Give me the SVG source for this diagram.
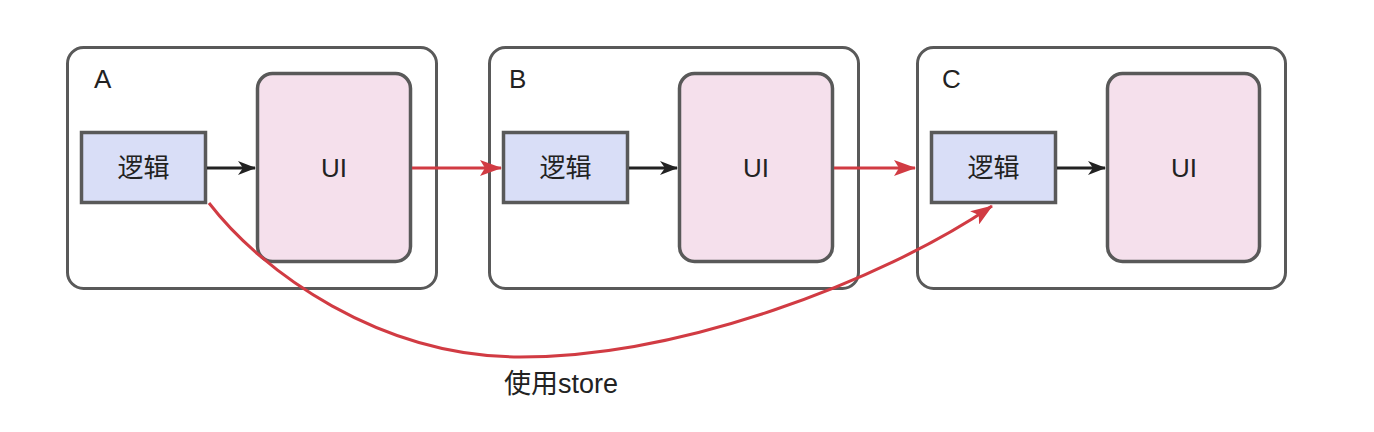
<svg xmlns="http://www.w3.org/2000/svg" width="1374" height="432" viewBox="0 0 1374 432">
<style>
.outer{fill:#ffffff;stroke:#595959;stroke-width:3}
.logic{fill:#d9def7;stroke:#595959;stroke-width:3.5}
.ui{fill:#f5e0ec;stroke:#595959;stroke-width:3.5}
.lbl{font-family:"Liberation Sans","Noto Sans CJK SC",sans-serif;font-size:26px;fill:#222}
.txt{font-family:"Liberation Sans","Noto Sans CJK SC",sans-serif;font-size:26px;fill:#222;text-anchor:middle;dominant-baseline:central}
.blk{stroke:#222;stroke-width:3;fill:none}
.red{stroke:#d13b43;stroke-width:3;fill:none}
</style>
<defs>
<marker id="ab" markerWidth="18" markerHeight="14" refX="17" refY="7" orient="auto" markerUnits="userSpaceOnUse"><path d="M0,0 L18,7 L0,14 L5,7 Z" fill="#222"/></marker>
<marker id="ar" markerWidth="22" markerHeight="16" refX="21" refY="8" orient="auto" markerUnits="userSpaceOnUse"><path d="M0,0 L22,8 L0,16 L5,8 Z" fill="#d13b43"/></marker>
</defs>
<rect width="1374" height="432" fill="#ffffff"/>
<g id="A">
<rect class="outer" x="67.5" y="47.5" width="369" height="241" rx="16"/>
<text class="lbl" x="94" y="88">A</text>
</g>
<g id="A-logic"><rect class="logic" x="81.5" y="132.5" width="124" height="70"/><text class="txt" x="143.5" y="168">逻辑</text></g>
<g id="A-ui"><rect class="ui" x="257.5" y="73.5" width="153" height="188" rx="15"/><text class="txt" x="334" y="168">UI</text></g>
<g id="B">
<rect class="outer" x="489.5" y="47.5" width="369" height="241" rx="16"/>
<text class="lbl" x="509" y="88">B</text>
</g>
<g id="B-logic"><rect class="logic" x="503.5" y="132.5" width="124" height="70"/><text class="txt" x="565.5" y="168">逻辑</text></g>
<g id="B-ui"><rect class="ui" x="679.5" y="73.5" width="153" height="188" rx="15"/><text class="txt" x="756" y="168">UI</text></g>
<g id="C">
<rect class="outer" x="917.5" y="47.5" width="368" height="241" rx="16"/>
<text class="lbl" x="942" y="88">C</text>
</g>
<g id="C-logic"><rect class="logic" x="931.5" y="132.5" width="124" height="70"/><text class="txt" x="993.5" y="168">逻辑</text></g>
<g id="C-ui"><rect class="ui" x="1107.5" y="73.5" width="152" height="188" rx="15"/><text class="txt" x="1184" y="168">UI</text></g>
<g id="connectors">
<path class="blk" d="M207,168 L255,168" marker-end="url(#ab)"/>
<path class="blk" d="M629,168 L677,168" marker-end="url(#ab)"/>
<path class="blk" d="M1057,168 L1105,168" marker-end="url(#ab)"/>
<path class="red" d="M412,168 L501,168" marker-end="url(#ar)"/>
<path class="red" d="M834,168 L915,168" marker-end="url(#ar)"/>
<path class="red" d="M209,203 C262,272 380,357 520,357 C680,357 880,282 992,206" marker-end="url(#ar)"/>
<text class="txt" x="561" y="384" style="font-size:27px">使用store</text>
</g>
</svg>
